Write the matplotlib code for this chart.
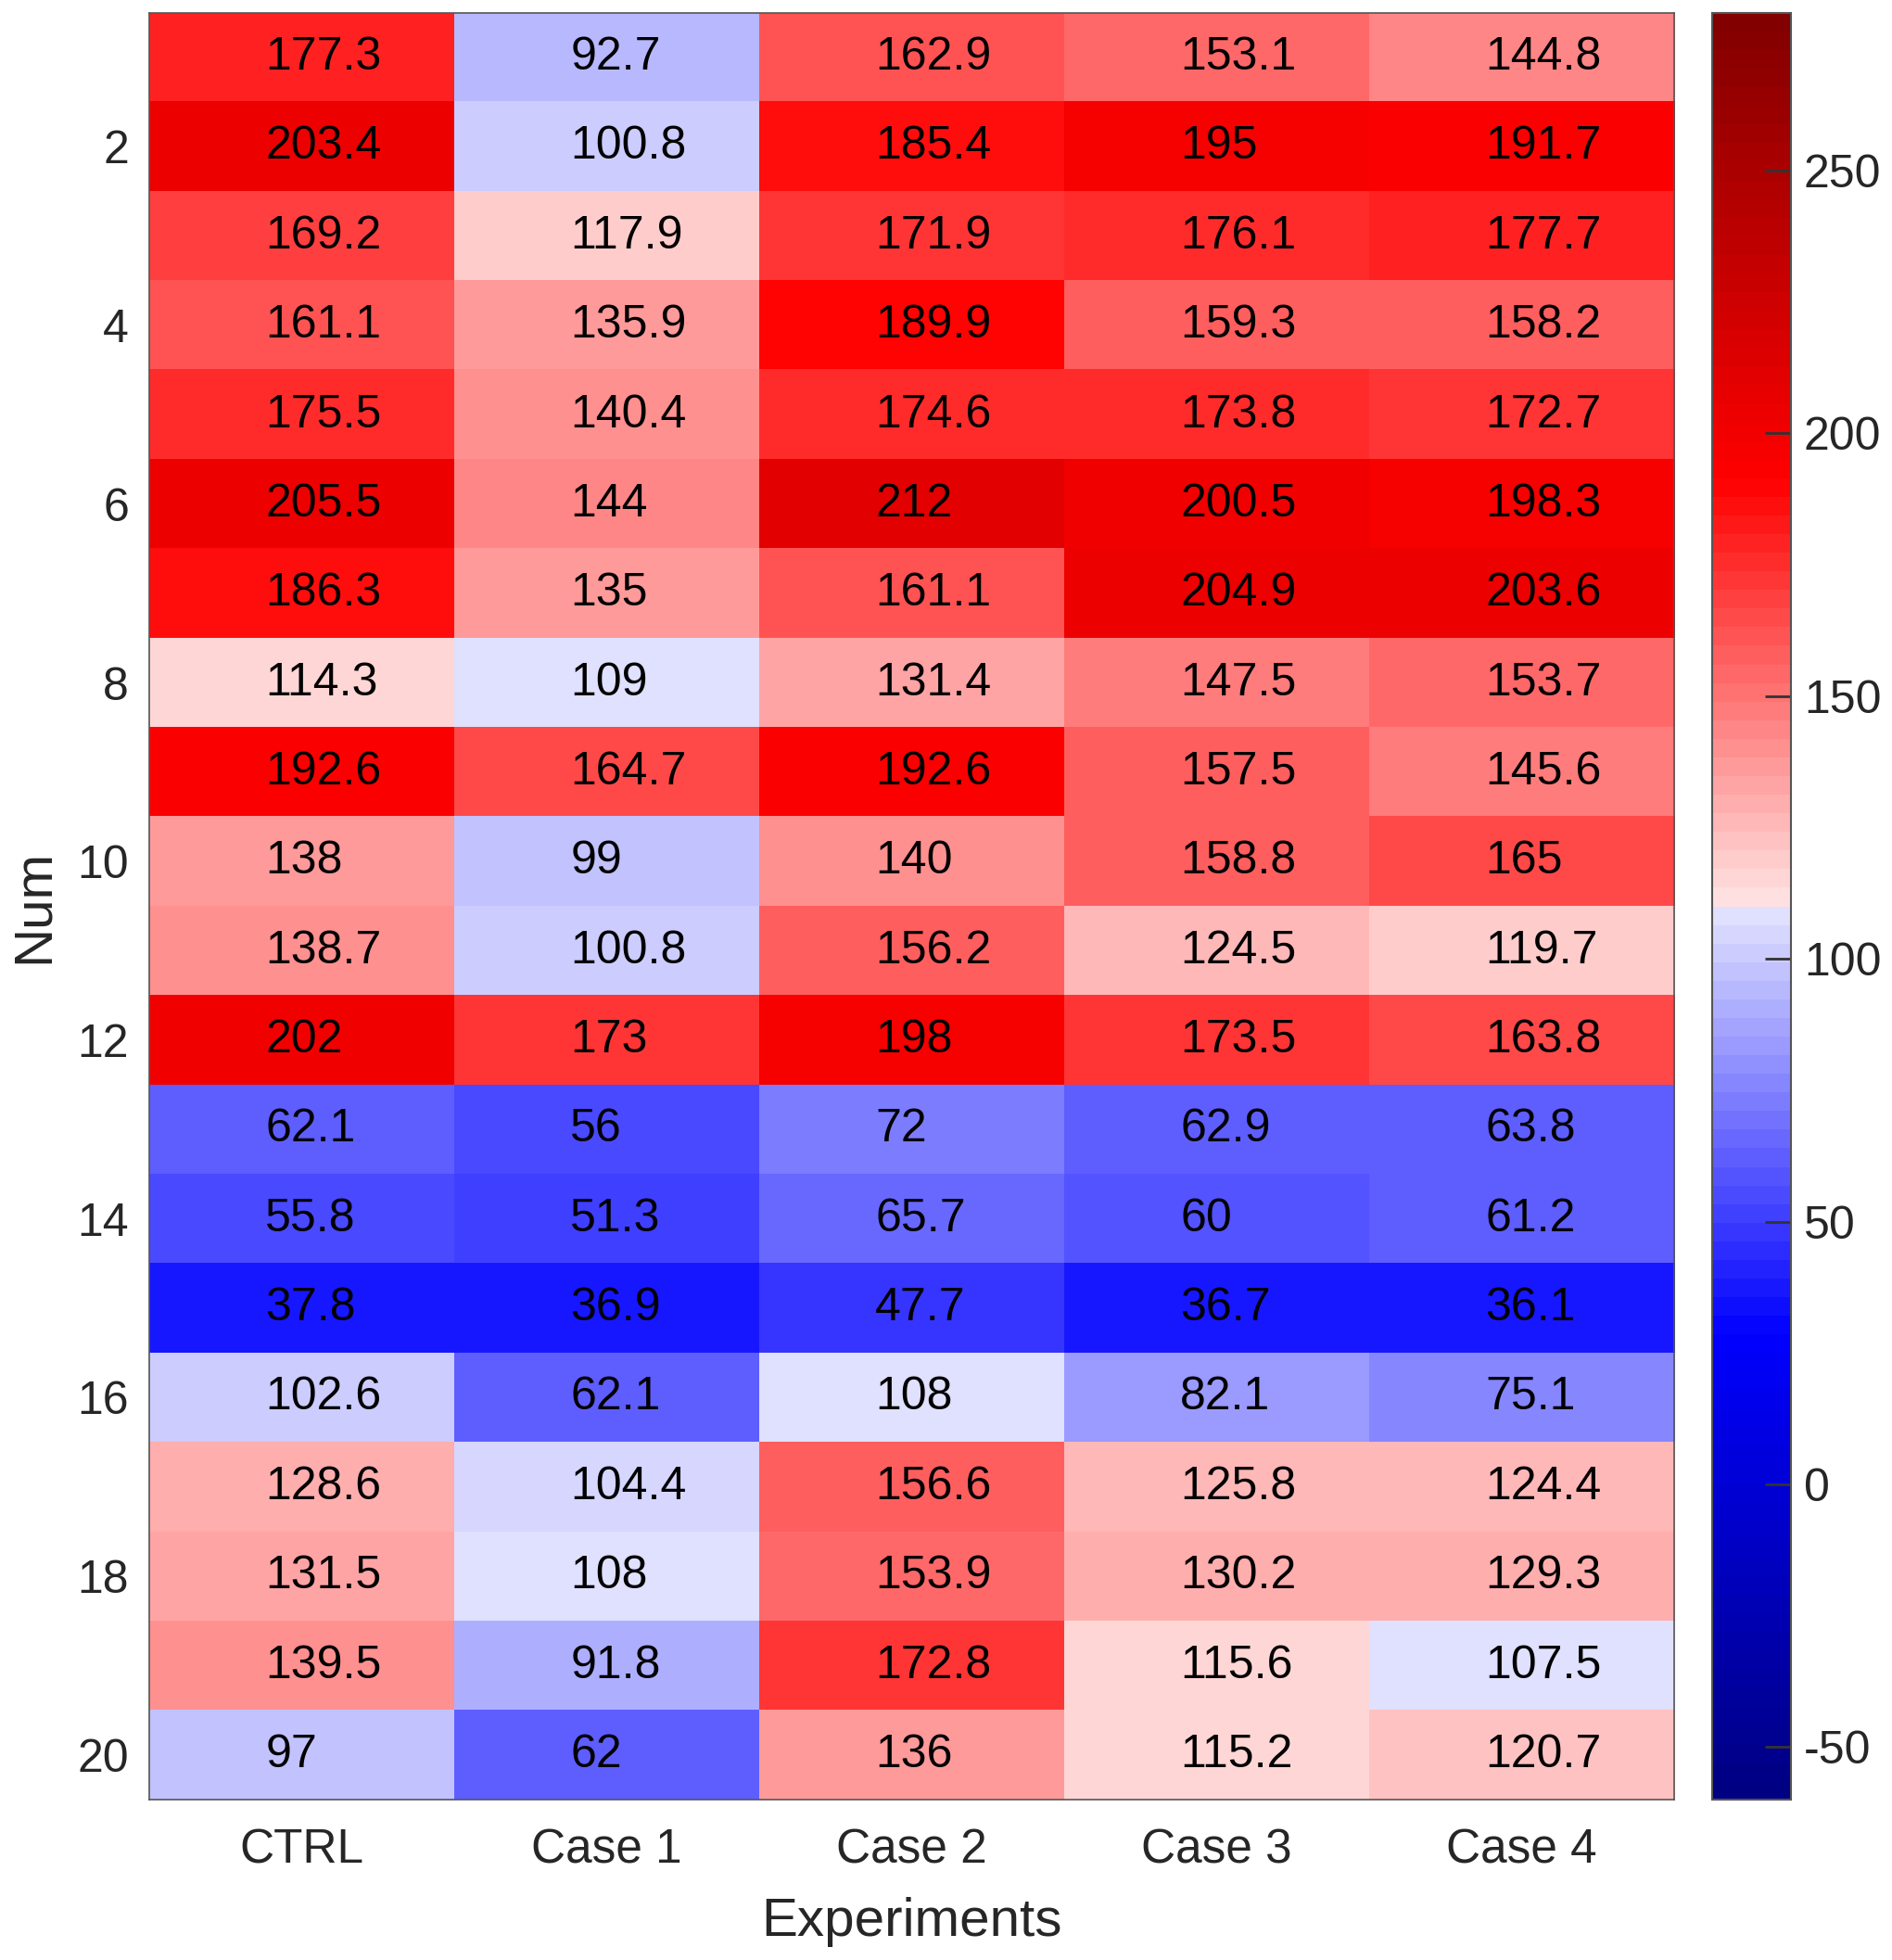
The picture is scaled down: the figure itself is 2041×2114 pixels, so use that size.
import numpy as np
import matplotlib
matplotlib.use("Agg")
import matplotlib.pyplot as plt
from matplotlib.colors import ListedColormap, Normalize

plt.rcParams['font.family'] = ['Liberation Sans', 'DejaVu Sans']
plt.rcParams['axes.unicode_minus'] = False

# data
experiments = ["CTRL", "Case 1", "Case 2", "Case 3", "Case 4"]
num_ticks = [2, 4, 6, 8, 10, 12, 14, 16, 18, 20]
ctrl  = [177.3, 203.4, 169.2, 161.1, 175.5, 205.5, 186.3, 114.3, 192.6, 138,
         138.7, 202, 62.1, 55.8, 37.8, 102.6, 128.6, 131.5, 139.5, 97]
case1 = [92.7, 100.8, 117.9, 135.9, 140.4, 144, 135, 109, 164.7, 99,
         100.8, 173, 56, 51.3, 36.9, 62.1, 104.4, 108, 91.8, 62]
case2 = [162.9, 185.4, 171.9, 189.9, 174.6, 212, 161.1, 131.4, 192.6, 140,
         156.2, 198, 72, 65.7, 47.7, 108, 156.6, 153.9, 172.8, 136]
case3 = [153.1, 195, 176.1, 159.3, 173.8, 200.5, 204.9, 147.5, 157.5, 158.8,
         124.5, 173.5, 62.9, 60, 36.7, 82.1, 125.8, 130.2, 115.6, 115.2]
case4 = [144.8, 191.7, 177.7, 158.2, 172.7, 198.3, 203.6, 153.7, 145.6, 165,
         119.7, 163.8, 63.8, 61.2, 36.1, 75.1, 124.4, 129.3, 107.5, 120.7]
cmin, cmax = -60, 280
cbar_ticks = [-50, 0, 50, 100, 150, 200, 250]

data = np.array([ctrl, case1, case2, case3, case4]).T


# blue-white-red map, stepped like the matlab one
def bwr_color(v):
    mid = 110.0
    if v >= mid:
        g = max(0.0, 0.9 - (v - mid) / 90.0)
        r = 1.0 if v <= 191 else 1.0 - 0.5 * (v - 191) / 89.0
        return (r, g, g)
    rg = max(0.0, 0.9 - (mid - v) / 90.0)
    b = 1.0 if v >= 29 else 1.0 - 0.5 * (29 - v) / 89.0
    return (rg, rg, b)


nlev = 96
centers = cmin + (np.arange(nlev) + 0.5) * (cmax - cmin) / nlev
cmap = ListedColormap([bwr_color(c) for c in centers])

fig = plt.figure(figsize=(20.41, 21.14), dpi=100)
ax = fig.add_axes([0.079, 0.0818, 0.806, 0.9116])
cax = fig.add_axes([0.905, 0.0818, 0.0416, 0.9116])

im = ax.imshow(data, cmap=cmap, norm=Normalize(cmin, cmax), aspect='auto',
               interpolation='nearest')

# labels start a bit left of the cell centre (left aligned, like the original)
for i in range(data.shape[0]):
    for j in range(data.shape[1]):
        ax.text(j - 0.12, i, "%g" % data[i, j], ha='left', va='center',
                fontsize=36, color='black')

ax.set_xticks(range(len(experiments)))
ax.set_xticklabels(experiments)
ax.set_yticks([n - 1 for n in num_ticks])
ax.set_yticklabels([str(n) for n in num_ticks])
ax.tick_params(length=0, labelsize=36, labelcolor='#262626', pad=16)
ax.tick_params(axis='x', pad=22, labelsize=37)
ax.set_xlabel("Experiments", fontsize=42, color='#262626', labelpad=18)
ax.set_ylabel("Num", fontsize=42, color='#262626', labelpad=14)
for s in ax.spines.values():
    s.set_color('#555555')
    s.set_linewidth(1.2)

cb = fig.colorbar(im, cax=cax, ticks=cbar_ticks)
cb.ax.tick_params(direction='in', length=20, width=2, color='#333333',
                  labelsize=36, labelcolor='#262626', pad=10)
cb.outline.set_edgecolor('#555555')
cb.outline.set_linewidth(1.5)

fig.savefig("out.png", dpi=100)
